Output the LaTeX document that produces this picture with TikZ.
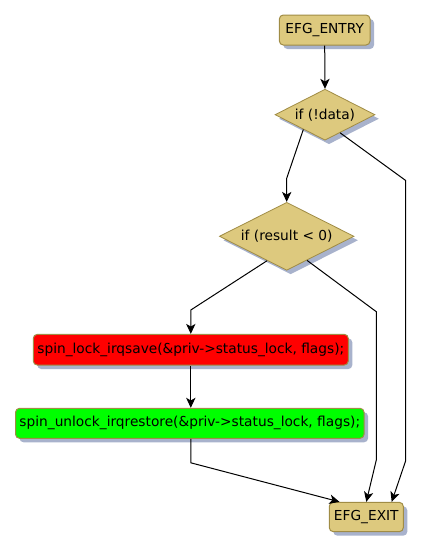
\documentclass[tikz,border=0pt]{standalone}
\usepackage{fontspec}
\setmainfont{DejaVu Sans}
\usetikzlibrary{shapes.geometric,arrows.meta,calc,shadows}
\definecolor{tanfill}{HTML}{DDC97E}
\definecolor{tanborder}{HTML}{A08C45}
\definecolor{shadowc}{HTML}{A8B2CC}
\definecolor{redfill}{HTML}{FF0000}
\definecolor{greenfill}{HTML}{00FF00}
\begin{document}
\begin{tikzpicture}[x=0.75pt,y=-0.75pt,
 font=\fontsize{10.3}{12}\selectfont,
 shad/.style={drop shadow={shadow xshift=3pt, shadow yshift=-3pt, fill=shadowc, opacity=1}},
 box/.style={draw=tanborder, line width=0.75pt, rounded corners=3pt, inner sep=0pt, shad},
 dia/.style={diamond, aspect=2, draw=tanborder, fill=tanfill, line width=0.6pt, inner sep=0pt, shad},
 conn/.style={line width=0.75pt},
 arr/.style={conn, -{Stealth[length=7.5pt,width=7pt,inset=2pt]}}
]
\useasboundingbox (0,0) rectangle (422,551);
\node[box, fill=tanfill, minimum width=68pt, minimum height=22.5pt] (entry) at (324.7,30) {EFG\_ENTRY};
\node[dia, minimum width=75pt, minimum height=38.25pt] (d1) at (325,114.7) {if (!data)};
\node[dia, minimum width=101pt, minimum height=51pt] (d2) at (286.7,236.3) {if (result < 0)};
\node[box, fill=redfill, minimum width=236.25pt, minimum height=23pt] (lock) at (190.8,349.7) {spin\_lock\_irqsave(\&priv->status\_lock, flags);};
\node[box, fill=greenfill, minimum width=261.4pt, minimum height=22.5pt] (unlock) at (189.8,423.3) {spin\_unlock\_irqrestore(\&priv->status\_lock, flags);};
\node[box, fill=tanfill, minimum width=55.5pt, minimum height=22pt] (exit) at (366.3,517) {EFG\_EXIT};

\draw[arr] (entry.south) -- (d1.north);
\draw[arr] ($(d1.west)!0.57!(d1.south)$) -- (286.7,178.3) -- (d2.north);
\draw[arr] ($(d1.south)!0.3!(d1.east)$) -- (405.7,180.5) -- (405.7,460.7) -- ($(exit.north)+(25.4,0)$);
\draw[arr] ($(d2.west)!0.71!(d2.south)$) -- (190.8,310) -- (lock.north);
\draw[arr] ($(d2.south)!0.3!(d2.east)$) -- (376.3,311.7) -- (376.3,460) -- (exit.north);
\draw[arr] (lock.south) -- (lock.south |- unlock.north);
\draw[arr] (lock.south |- unlock.south) -- ++(0,24) -- ($(exit.north west)+(10.7,0)$);
\end{tikzpicture}
\end{document}
